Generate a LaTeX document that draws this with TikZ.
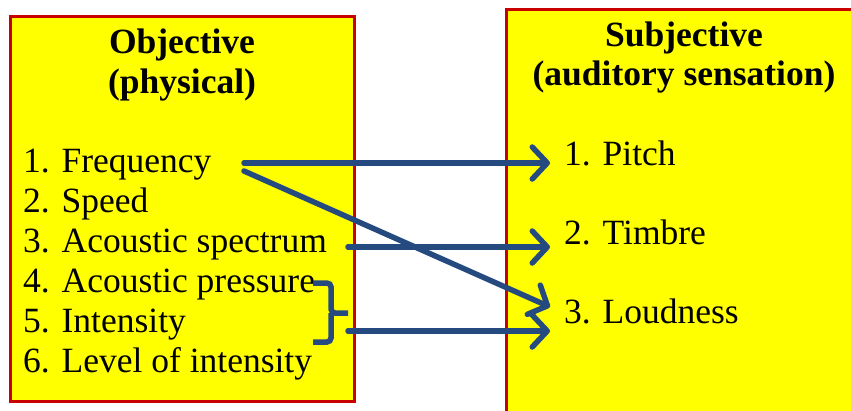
\documentclass[tikz,border=0pt]{standalone}
\usepackage{fontspec}
\setmainfont{Liberation Serif}
\usetikzlibrary{arrows.meta}
\definecolor{boxred}{RGB}{200,0,0}
\definecolor{boxyellow}{RGB}{255,255,0}
\definecolor{arrowblue}{RGB}{36,74,128}
\tikzset{item/.style={anchor=base west,inner sep=0pt,font=\fontsize{35.5bp}{40bp}\selectfont},
         head/.style={anchor=base,inner sep=0pt,font=\fontsize{35.5bp}{40bp}\selectfont\bfseries}}

\begin{document}
\begin{tikzpicture}[x=1bp,y=-1bp,
        panel/.style={draw=boxred,fill=boxyellow,line width=3bp},
        conn/.style={draw=arrowblue,line width=5.5bp,line cap=round,
            -{Straight Barb[length=15bp,width=32bp,round]}}]
        \useasboundingbox (0,0) rectangle (851,410);
        \clip (0,0) rectangle (851,410);
        \draw[panel] (10,16) rectangle (354,401);
        \draw[panel] (506,9) rectangle (870,430);
        \node[head] (obj1) at (182,53) {Objective};
        \node[head] (obj2) at (182,93) {(physical)};
        \node[head] (subj1) at (684,46) {Subjective};
        \node[head] (subj2) at (684,85) {(auditory sensation)};
        \node[item] (freq) at (23,172) {1. Frequency};
        \node[item] (speed) at (23,212) {2. Speed};
        \node[item] (spec) at (23,252) {3. Acoustic spectrum};
        \node[item] (press) at (23,292) {4. Acoustic pressure};
        \node[item] (inten) at (23,332) {5. Intensity};
        \node[item] (level) at (23,372) {6. Level of intensity};
        \node[item,inner xsep=14bp] (pitch) at (550,165) {1. Pitch};
        \node[item,inner xsep=14bp] (timbre) at (550,244) {2. Timbre};
        \node[item,inner xsep=14bp] (loud) at (550,323) {3. Loudness};
        % brace around 4--6
        \draw[arrowblue,line width=5.5bp,rounded corners=4bp] (313,283) -| (331,313) -- (348,313);
        \draw[arrowblue,line width=5.5bp,rounded corners=4bp] (313,342) -| (331,313);
        \coordinate (a1) at (244,163);
        \coordinate (a2) at (244,171);
        \coordinate (a3) at (348,247);
        \coordinate (a4) at (348,331);
        \draw[conn] (a1) -- (a1 -| pitch.west);
        \draw[conn] (a2) -- ([yshift=4bp]loud.west);
        \draw[conn] (a3) -- (a3 -| timbre.west);
        \draw[conn] (a4) -- (a4 -| loud.west);
\end{tikzpicture}
\end{document}
